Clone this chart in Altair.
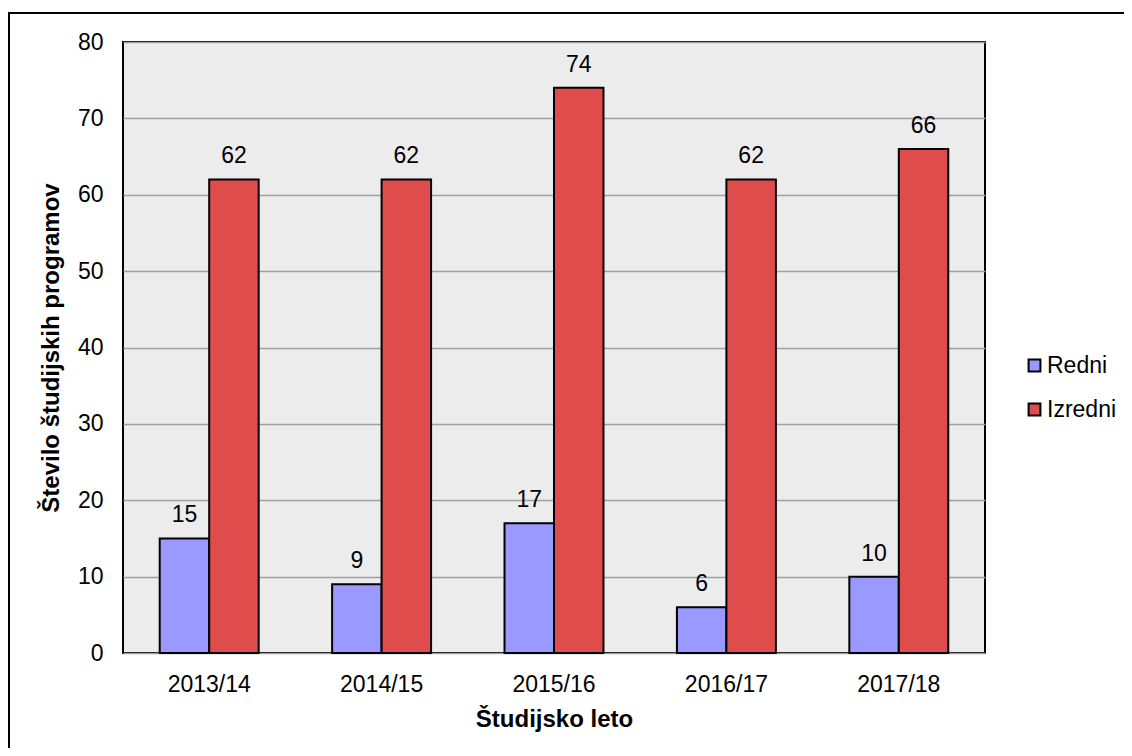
import altair as alt
import pandas as pd

years = ["2013/14", "2014/15", "2015/16", "2016/17", "2017/18"]
redni = [15, 9, 17, 6, 10]
izredni = [62, 62, 74, 62, 66]
series = ["Redni", "Izredni"]
colors = ["#9999ff", "#e04c4b"]

rows = []
for i, y in enumerate(years):
    rows.append({"leto": y, "vrsta": "Redni", "st": redni[i]})
    rows.append({"leto": y, "vrsta": "Izredni", "st": izredni[i]})
df = pd.DataFrame(rows)

FONT = "Liberation Sans"
FS = 23
TFS = 24

x = alt.X("leto:N", sort=years,
          scale=alt.Scale(paddingInner=0.426, paddingOuter=0.213),
          axis=alt.Axis(title="Študijsko leto", labelAngle=0, ticks=False, domain=False,
                        labelPadding=20, titlePadding=11, labelFontSize=FS, titleFontSize=TFS,
                        labelColor="black", titleColor="black", labelFont=FONT, titleFont=FONT,
                        titleFontWeight="bold"))
y = alt.Y("st:Q", scale=alt.Scale(domain=[0, 80], nice=False),
          axis=alt.Axis(title="Število študijskih programov", values=list(range(0, 81, 10)),
                        ticks=False, domain=False, labelPadding=20, titlePadding=14,
                        grid=True, gridColor="#a0a0a0", gridWidth=1.5,
                        labelFontSize=FS, titleFontSize=TFS, labelColor="black",
                        titleColor="black", labelFont=FONT, titleFont=FONT,
                        titleFontWeight="bold"))
xo = alt.XOffset("vrsta:N", sort=series, scale=alt.Scale(domain=series, paddingInner=0, paddingOuter=0))

bars = alt.Chart(df).mark_bar(stroke="black", strokeWidth=2).encode(
    x=x, y=y, xOffset=xo,
    color=alt.Color("vrsta:N", sort=series,
                    scale=alt.Scale(domain=series, range=colors),
                    legend=alt.Legend(title=None, orient="none", legendX=900, legendY=312,
                                      symbolType="square", symbolSize=140,
                                      symbolStrokeColor="black", symbolStrokeWidth=2,
                                      labelFontSize=FS, labelFont=FONT, labelColor="black",
                                      labelOffset=1, rowPadding=20)),
)

labels = alt.Chart(df).mark_text(baseline="alphabetic", dy=-16, fontSize=FS, font=FONT,
                                 color="black").encode(
    x=x, y=y, xOffset=xo, text="st:Q")

frame = alt.Chart(pd.DataFrame({"a": [0]})).mark_rect(
    fill=None, stroke="black", strokeWidth=2).encode(
    x=alt.value(-114), x2=alt.value(1020), y=alt.value(-29), y2=alt.value(720))

chart = alt.layer(frame, bars, labels).properties(
    width=862, height=611,
    padding={"left": 115, "top": 34, "right": 139, "bottom": 95},
    autosize=alt.AutoSizeParams(type="none"),
).configure(background="white"
).configure_view(fill="#ececec", stroke="black", strokeWidth=2)

chart.save("out.html", embed_options={"renderer": "svg", "actions": False})
